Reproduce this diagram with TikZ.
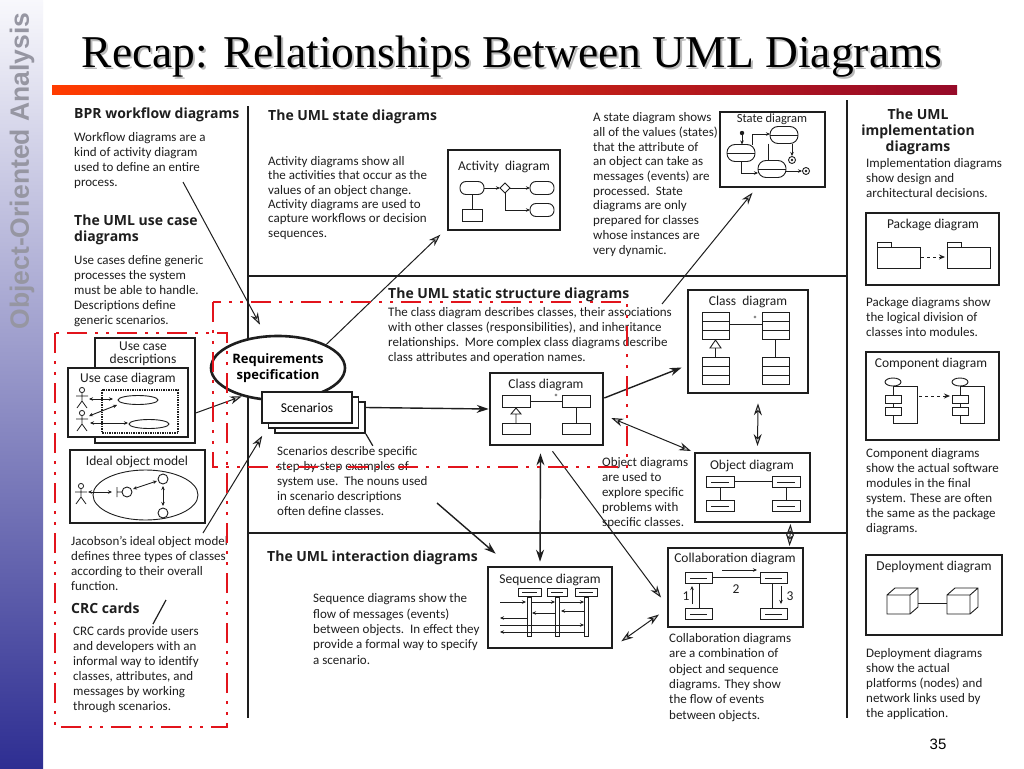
\documentclass[tikz,border=0pt]{standalone}
\usepackage{fontspec}
\setmainfont{Carlito}
\newfontfamily\headfont{Open Sans}
\newfontfamily\titlefont{Liberation Serif}
\newfontfamily\sidefont{Liberation Sans}
\usetikzlibrary{arrows.meta,shapes.geometric,calc}
\definecolor{ink}{RGB}{30,30,30}
\definecolor{redline}{RGB}{226,20,28}
\definecolor{sidetop}{RGB}{248,248,252}
\definecolor{sidebot}{RGB}{46,46,146}
\definecolor{sidetext}{RGB}{150,150,162}
\definecolor{barleft}{RGB}{255,60,0}
\definecolor{barright}{RGB}{150,10,40}
\begin{document}
\begin{tikzpicture}[x=1pt,y=-1pt,
  txt/.style={anchor=base west,align=left,inner sep=0pt,text=ink,
    font=\fontsize{13}{15}\selectfont},
  head/.style={anchor=base west,align=left,inner sep=0pt,text=ink,
    font=\headfont\bfseries\fontsize{14}{15.5}\selectfont},
  lbl/.style={inner sep=0pt,text=ink,font=\fontsize{13.5}{12.5}\selectfont},
  box/.style={draw=ink,fill=white,line width=1.4pt,inner sep=0pt},
  heavy/.style={box,line width=2.6pt},
  mini/.style={draw=ink,line width=0.9pt},
  frame/.style={draw=ink,line width=1.3pt},
  sarr/.style={mini,-{Stealth[length=4pt,width=3.5pt]}},
  sbiarr/.style={mini,{Stealth[length=4pt,width=3.5pt]}-{Stealth[length=4pt,width=3.5pt]}},
  arr/.style={draw=ink,line width=1.4pt,-{Stealth[length=12pt,width=8pt]}},
  biarr/.style={draw=ink,line width=1.4pt,{Stealth[length=12pt,width=8pt]}-{Stealth[length=12pt,width=8pt]}},
  harr/.style={draw=ink,line width=1pt,-{Stealth[length=12pt,width=8pt,fill=gray!45]}},
  hbiarr/.style={draw=ink,line width=1pt,{Stealth[length=12pt,width=8pt,fill=gray!45]}-{Stealth[length=12pt,width=8pt,fill=gray!45]}},
  redbox/.style={draw=redline,line width=2.6pt,dash pattern=on 20pt off 8pt on 3pt off 8pt on 3pt off 8pt},
  actor/.pic={\draw[ink,line width=0.8pt] (0,-8) circle (2.6) (0,-5.4) -- (0,3)
    (-6,-2) -- (6,-2) (-5,10) -- (0,3) -- (5,10);},
  folder/.pic={\draw[mini,fill=white] (0,0) -- (0,-5) -- (14,-5) -- (14,0);
    \draw[mini,fill=white] (0,0) rectangle (43,21);},
  comp/.pic={\draw[mini,fill=white] (0,0) rectangle (24,37);
    \draw[mini,fill=white] (-8,9) rectangle (8,17) (-8,21) rectangle (8,29);
    \draw[mini,fill=white] (0,-4) ellipse (8 and 4);},
  cube/.pic={\draw[mini,fill=white] (0,0) rectangle (23,19) (0,0) -- (8,-7) -- (31,-7)
    -- (31,12) -- (23,19) (23,0) -- (31,-7);}
]
\fill[white] (0,0) rectangle (1024,768);
\useasboundingbox (0,0) rectangle (1024,768);

% slide decoration
\shade[top color=sidetop,bottom color=sidebot] (0,0) rectangle (43,768);
\node[rotate=90,text=sidetext,font=\sidefont\bfseries\fontsize{26.5}{30}\selectfont] (side) at (22,171) {Object-Oriented Analysis};
\node[anchor=base,text=gray!55,font=\titlefont\fontsize{45.5}{50}\selectfont] (titleshadow) at (514,69) {Recap: Relationships Between UML Diagrams};
\node[anchor=base,text=black,font=\titlefont\fontsize{45.5}{50}\selectfont] (title) at (512,67) {Recap: Relationships Between UML Diagrams};
\shade[left color=barleft,right color=barright] (52,85) rectangle (957,94);
\node[font=\sidefont\fontsize{15}{16}\selectfont] (pagenum) at (938,744) {35};

% panel rules
\draw[frame] (248,106) -- (248,718);
\draw[frame] (248,276) -- (847,276);
\draw[frame] (248,533) -- (847,533);
\draw[frame] (847,100) -- (847,718);

% left column (text nodes sit on the baseline of their last line)
\node[head] (bprhead) at (74,118) {BPR workflow diagrams};
\node[txt] (bprtxt) at (74,186) {Workflow diagrams are a\\kind of activity diagram\\used to define an entire\\process.};
\node[head] (uchead) at (74,241) {The UML use case\\diagrams};
\node[txt] (uctxt) at (74,324) {Use cases define generic\\processes the system\\must be able to handle.\\Descriptions define\\generic scenarios.};

\node[box,minimum width=100pt,minimum height=105pt] (ucdb) at (145,390.5) {};
\node[lbl,align=center,anchor=base] (ucdblbl) at (143,363) {Use case\\descriptions};
\node[box,minimum width=120pt,minimum height=69pt] (ucd) at (128,402.5) {};
\node[lbl] (ucdlbl) at (128,379) {Use case diagram};
\draw[ink,line width=1.4pt,densely dotted] (102,390) rectangle (178,433);
\draw[mini] (138,400) ellipse (20 and 4.5) (149,424) ellipse (20 and 4.5);
\pic at (82,398) {actor};
\pic at (82,421) {actor};
\draw[sbiarr] (89,399) -- (113,399);
\draw[sbiarr] (89,416) -- (117,405);
\draw[sbiarr] (90,423) -- (128,423);

\node[box,minimum width=135pt,minimum height=73pt] (iom) at (137.5,486.5) {};
\node[lbl] (iomlbl) at (137,462) {Ideal object model};
\draw[mini] (145.5,495) ellipse (52.5 and 25);
\pic at (81,494) {actor};
\draw[sbiarr] (88,492) -- (112,492);
\draw[mini] (117,487) -- (117,497) (117,492) -- (122,492) (127,492) circle (5);
\draw[sbiarr] (133,489) -- (157,481);
\draw[mini] (163,479) circle (5) (163,513) circle (5);
\draw[sbiarr] (163,486) -- (163,506);

\node[txt] (jactxt) at (71,590) {Jacobson's ideal object model\\defines three types of classes\\according to their overall\\function.};
\node[head] (crchead) at (71,613) {CRC cards};
\draw[mini,line width=1.2pt] (153,624) -- (166,600);
\node[txt] (crctxt) at (73,710) {CRC cards provide users\\and developers with an\\informal way to identify\\classes, attributes, and\\messages by working\\through scenarios.};

% state diagrams panel
\node[head] (sthead) at (268,120) {The UML state diagrams};
\node[txt,font=\fontsize{13}{14.3}\selectfont] (acttxt) at (268,237) {Activity diagrams show all\\the activities that occur as the\\values of an object change.\\Activity diagrams are used to\\capture workflows or decision\\sequences.};
\node[box,minimum width=112pt,minimum height=80pt] (act) at (504,190) {};
\node[lbl] (actlbl) at (504,167) {Activity\ \ diagram};
\draw[mini,rounded corners=6pt] (460,181.5) rectangle (484,194.5);
\draw[mini,rounded corners=6pt] (530,181.5) rectangle (554,194.5);
\draw[mini,rounded corners=6pt] (530,203.5) rectangle (554,216.5);
\draw[mini] (505,183) -- (510,188) -- (505,193) -- (500,188) -- cycle;
\draw[sarr] (484,188) -- (500,188);
\draw[sarr] (510,188) -- (530,188);
\draw[sarr] (505,193) |- (530,210);
\draw[mini] (472,194.5) -- (472,209) (462,209) rectangle (482,221);

\node[txt,font=\fontsize{13}{14.7}\selectfont] (sttxt) at (593,254) {A state diagram shows\\all of the values (states)\\that the attribute of\\an object can take as\\messages (events) are\\processed.\ \ State\\diagrams are only\\prepared for classes\\whose instances are\\very dynamic.};
\node[box,minimum width=105pt,minimum height=75pt] (state) at (772.5,149.5) {};
\node[lbl,font=\fontsize{12.5}{12.5}\selectfont] (statelbl) at (772,119.5) {State diagram};
\foreach \cx/\cy in {741/153,784/135,772/169} {
  \draw[mini,rounded corners=8pt] (\cx-14,\cy-8.5) rectangle (\cx+14,\cy+8.5);
  \draw[mini] (\cx-14,\cy) -- (\cx+14,\cy);
}
\fill[ink] (742,133) circle (2.2);
\draw[sarr] (742,135) -- (742,144.5);
\draw[sarr] (752,144.5) |- (770,134);
\draw[sarr] (741,161.5) |- (758,173);
\draw[mini] (768,143.5) -- (768,160.5);
\draw[sarr] (792,143.5) -- (792,156);
\draw[sarr] (786,171) -- (802,171);
\foreach \fx/\fy in {792/160,806/171} {
  \draw[mini] (\fx,\fy) circle (3.5);
  \fill[ink] (\fx,\fy) circle (1.4);
}

% static structure panel
\node[head] (sshead) at (388,298) {The UML static structure diagrams};
\node[txt] (sstxt) at (388,361) {The class diagram describes classes, their associations\\with other classes (responsibilities), and inheritance\\relationships.\ \ More complex class diagrams describe\\class attributes and operation names.};

\node[heavy,ellipse,minimum width=134pt,minimum height=64pt,align=center,
  font=\headfont\bfseries\fontsize{13}{15.5}\selectfont] (req) at (278,368) {Requirements\\specification};
\node[box,line width=1.6pt,minimum width=90pt,minimum height=31pt] (scen3) at (320,417.5) {};
\node[box,line width=1.6pt,minimum width=90pt,minimum height=31pt] (scen2) at (313.5,412.5) {};
\node[box,line width=1.6pt,minimum width=90pt,minimum height=31pt,font=\fontsize{13.5}{14}\selectfont] (scen) at (307,407.5) {Scenarios};
\draw[mini,line width=1.2pt] (scen3.south east) -- ++(7,12);
\node[txt] (scentxt) at (277,515) {Scenarios describe specific\\step-by-step examples of\\system use.\ \ The nouns used\\in scenario descriptions\\often define classes.};

\node[heavy,minimum width=113pt,minimum height=72pt] (cls) at (546.5,409) {};
\node[lbl] (clslbl) at (546,385) {Class diagram};
\foreach \bx/\by/\bh in {502/395/12,562/395/12,502/423/11,562/423/11}
  \draw[mini,fill=white] (\bx,\by) rectangle ++(28,\bh);
\draw[mini] (530,401) -- (562,401);
\node[lbl,font=\fontsize{9}{9}\selectfont] (clsstar) at (556,397) {*};
\draw[mini] (516,423) -- (516,414) (511,414) -- (521,414) -- (516,408) -- cycle;
\draw[mini] (576,407) -- (576,423);

\node[heavy,minimum width=120pt,minimum height=103pt] (clsR) at (748,341.5) {};
\node[lbl] (clsRlbl) at (748,302) {Class\ \ diagram};
\foreach \bx/\by in {702/312,762/312,702/357,762/357} {
  \draw[mini,fill=white] (\bx,\by) rectangle ++(27,27);
  \draw[mini] (\bx,\by+9) -- ++(27,0) (\bx,\by+18) -- ++(27,0);
}
\draw[mini] (729,324) -- (762,324);
\node[lbl,font=\fontsize{9}{9}\selectfont] (clsRstar) at (755,319) {*};
\draw[mini] (715.5,357) -- (715.5,348) (710,348) -- (721,348) -- (715.5,340) -- cycle;
\draw[mini] (775.5,339) -- (775.5,357);

\node[box,line width=2pt,minimum width=115pt,minimum height=69pt] (obj) at (752.5,487.5) {};
\node[lbl] (objlbl) at (752,466) {Object diagram};
\foreach \bx/\by in {706/476,772/476,706/500,772/500} {
  \draw[mini,fill=white] (\bx,\by) rectangle ++(28,11);
  \draw[mini] (\bx+5,\by+6) -- ++(18,0);
}
\draw[mini] (734,481.5) -- (772,481.5) (720,487) -- (720,500) (786,487) -- (786,500);
\node[txt] (objtxt) at (602,526) {Object diagrams\\are used to\\explore specific\\problems with\\specific classes.};

% interaction panel
\node[head] (ihead) at (267,561) {The UML interaction diagrams};
\node[txt,font=\fontsize{13}{15.3}\selectfont] (seqtxt) at (313,664) {Sequence diagrams show the\\flow of messages (events)\\between objects.\ \ In effect they\\provide a formal way to specify\\a scenario.};
\node[heavy,minimum width=124pt,minimum height=81pt] (seq) at (550,607.5) {};
\node[lbl] (seqlbl) at (550,580) {Sequence diagram};
\foreach \bx/\bw in {518/23,547/20,575/22} {
  \draw[mini,fill=white] (\bx,588) rectangle ++(\bw,8);
  \draw[mini] (\bx+4,592) -- ++(\bw-8,0);
}
\foreach \lx in {529,557,586}
  \draw[mini,fill=white] (\lx-2,597) rectangle (\lx+2,636);
\foreach \ya/\xa/\xb in {602/500/526,602/531/555,602/559/584,611/584/561,613/555/532,618/527/500,625/500/584,632/584/500}
  \draw[sarr] (\xa,\ya) -- (\xb,\ya);

\node[box,line width=2pt,minimum width=135pt,minimum height=79pt] (collab) at (735.5,587.5) {};
\node[lbl] (collablbl) at (735,559) {Collaboration diagram};
\foreach \bx/\by in {685/572,760/572,685/608,760/608} {
  \draw[mini,fill=white] (\bx,\by) rectangle ++(27,11);
  \draw[mini] (\bx+5,\by+6) -- ++(17,0);
}
\draw[mini] (712,577.5) -- (760,577.5) (699,583) -- (699,608) (772,583) -- (772,608);
\draw[sarr] (722,570) -- (757,570);
\draw[sarr] (692,604) -- (692,586);
\draw[sarr] (781,586) -- (781,604);
\node[lbl] (n1) at (686,596) {1};
\node[lbl] (n2) at (736,589) {2};
\node[lbl] (n3) at (790,596) {3};
\node[txt,font=\fontsize{13}{15.3}\selectfont] (collabtxt) at (669,719) {Collaboration diagrams\\are a combination of\\object and sequence\\diagrams. They show\\the flow of events\\between objects.};

% implementation column
\node[head,align=center,anchor=base,font=\headfont\bfseries\fontsize{14}{16}\selectfont] (imphead) at (918,151) {The UML\\implementation\\diagrams};
\node[txt] (imptxt) at (866,197) {Implementation diagrams\\show design and\\architectural decisions.};
\node[box,minimum width=133pt,minimum height=72pt] (pkg) at (932.5,249) {};
\node[lbl] (pkglbl) at (933,225) {Package diagram};
\pic at (877,247) {folder};
\pic at (947,247) {folder};
\draw[mini,dashed,-{Stealth[length=6pt,width=5pt]}] (921,257) -- (945,257);
\node[txt] (pkgtxt) at (866,336) {Package diagrams show\\the logical division of\\classes into modules.};

\node[box,minimum width=133pt,minimum height=88pt] (comp) at (932.5,396) {};
\node[lbl] (complbl) at (931,364) {Component diagram};
\pic at (893,386) {comp};
\pic at (960,386) {comp};
\draw[mini,dashed,-{Stealth[length=6pt,width=5pt]}] (919,396) -- (950,396);
\node[txt] (comptxt) at (866,532) {Component diagrams\\show the actual software\\modules in the final\\system. These are often\\the same as the package\\diagrams.};

\node[box,minimum width=136pt,minimum height=80pt] (depl) at (934,595) {};
\node[lbl] (depllbl) at (934,567) {Deployment diagram};
\pic at (887,595) {cube};
\pic at (947,595) {cube};
\draw[mini] (918,603) -- (947,603);
\node[txt] (depltxt) at (866,717) {Deployment diagrams\\show the actual\\platforms (nodes) and\\network links used by\\the application.};

% connectors
\coordinate (bprtail) at (183,182);
\coordinate (sttail) at (662,304);
\coordinate (jactail) at (203,533);
\coordinate (sctail) at (437,503);
\draw[harr] (bprtail) -- ($(req.north)+(-18,-10)$);
\draw[harr] ($(ucdb.east)+(0,22.5)$) -- (req.218);
\draw[harr] (req.north east) -- ($(act.south west)+(-7,4)$);
\draw[harr] (sttail) -- ($(state.south)+(-20,5)$);
\draw[harr] (jactail) -- ($(scen.south west)+(1,12)$);
\draw[arr] (scen.east -| scen3.east) -- (cls.west);
\draw[arr] ($(cls.east)+(0,-11)$) -- ($(clsR.west)+(-5,26)$);
\draw[hbiarr] ($(clsR.south)+(10,9)$) -- ($(obj.north)+(5,-6)$);
\draw[hbiarr] ($(cls.east)+(7,9)$) -- ($(obj.north west)+(-3,-1)$);
\draw[harr] ($(cls.south)+(6,5)$) -- ($(collab.west)+(-6,10)$);
\draw[biarr] ($(cls.south)+(-6,7)$) -- ($(seq.north)+(-10,-4)$);
\draw[arr] (sctail) -- ($(seq.north west)+(9,-12)$);
\draw[hbiarr] ($(obj.south)+(38,1)$) -- ($(collab.north)+(54,-1)$);
\draw[hbiarr] ($(seq.south east)+(8,-8)$) -- ($(collab.west)+(-8,27)$);

% highlight frames
\draw[redbox] (55,333) rectangle (227,727);
\draw[redbox] (213,302) rectangle (627,467);
\end{tikzpicture}
\end{document}
